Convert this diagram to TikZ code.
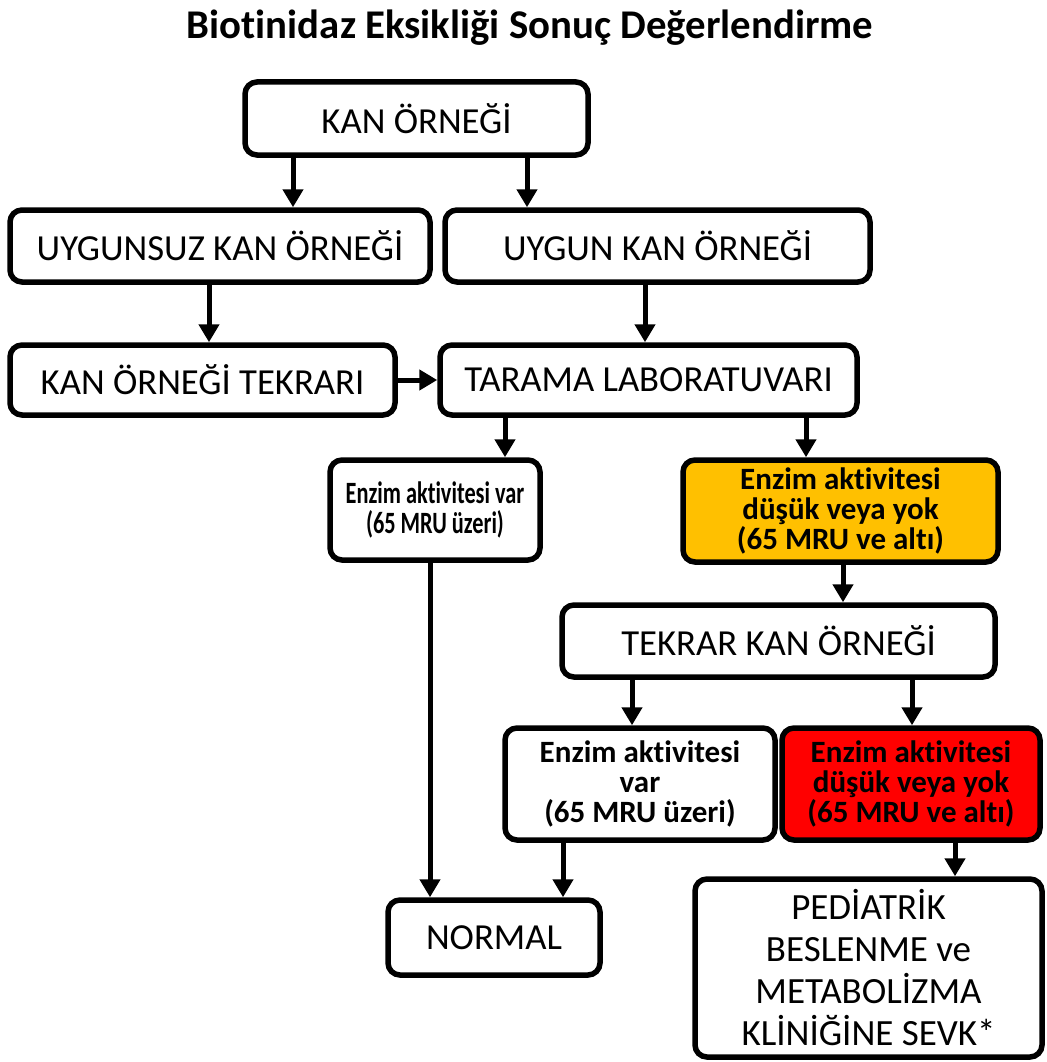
\documentclass[tikz,border=0pt]{standalone}
\usepackage{fontspec}
\defaultfontfeatures{Ligatures={NoCommon}}
\setmainfont{Carlito}
\newfontfamily\condfont[FakeStretch=0.72,Ligatures={NoCommon}]{Carlito}
\usetikzlibrary{arrows.meta}
\tikzset{
  box/.style={draw=black, line width=5.5pt, rounded corners=12pt, fill=white, align=center, inner sep=0pt,
    font=\fontsize{36.7}{40}\selectfont},
  ebox/.style={box, font=\bfseries\fontsize{31}{30}\selectfont},
  cbox/.style={box, font=\condfont\bfseries\fontsize{31}{30}\selectfont},
  pbox/.style={box, font=\fontsize{37}{42}\selectfont},
  arr/.style={line width=5pt, -{Triangle[length=18pt,width=20pt]}},
}
\definecolor{ylw}{HTML}{FFC000}
\definecolor{rd}{HTML}{FF0000}
\begin{document}
\begin{tikzpicture}[x=1pt,y=-1pt]
\useasboundingbox (0,0) rectangle (1046,1062);
\node (title) at (530,28) {\fontsize{40.8}{42}\selectfont\bfseries Biotinidaz Eksikliği Sonuç Değerlendirme};
\node[box, minimum width=343pt, minimum height=73pt] (kan) at (416.5,118.5) {KAN ÖRNEĞİ};
\node[box, minimum width=420pt, minimum height=72pt] (uyg0) at (220,246) {UYGUNSUZ KAN ÖRNEĞİ};
\node[box, minimum width=425pt, minimum height=72pt] (uyg) at (657.5,246) {UYGUN KAN ÖRNEĞİ};
\node[box, minimum width=385pt, minimum height=70pt] (tekrari) at (202.5,380) {KAN ÖRNEĞİ TEKRARI};
\node[box, minimum width=417pt, minimum height=70pt] (tarama) at (648.5,380) {TARAMA LABORATUVARI};
\node[cbox, minimum width=210pt, minimum height=100pt] (var1) at (435,510) {Enzim aktivitesi var\\(65 MRU üzeri)};
\node[ebox, fill=ylw, minimum width=315pt, minimum height=102pt] (yel) at (840.5,511) {Enzim aktivitesi\\düşük veya yok\\(65 MRU ve altı)};
\node[box, minimum width=433pt, minimum height=72pt] (tekkan) at (778.5,641) {TEKRAR KAN ÖRNEĞİ};
\node[ebox, minimum width=270pt, minimum height=112pt] (var2) at (640,784) {Enzim aktivitesi\\var\\(65 MRU üzeri)};
\node[ebox, fill=rd, minimum width=258pt, minimum height=112pt] (red) at (911,784) {Enzim aktivitesi\\düşük veya yok\\(65 MRU ve altı)};
\node[box, minimum width=212pt, minimum height=75pt] (normal) at (494,937.5) {NORMAL};
\node[pbox, minimum width=347pt, minimum height=178pt] (ped) at (868.5,968) {PEDİATRİK\\BESLENME ve\\METABOLİZMA\\KLİNİĞİNE SEVK*};
\coordinate (c1) at (293,0);
\coordinate (c2) at (527,0);
\coordinate (c3) at (209,0);
\coordinate (c4) at (645,0);
\coordinate (c5) at (505,0);
\coordinate (c6) at (806,0);
\coordinate (c7) at (843,0);
\coordinate (c8) at (632,0);
\coordinate (c9) at (912,0);
\coordinate (c10) at (430,0);
\coordinate (c11) at (563,0);
\coordinate (c12) at (955,0);
\draw[arr] (kan.south -| c1) -- (uyg0.north -| c1);
\draw[arr] (kan.south -| c2) -- (uyg.north -| c2);
\draw[arr] (uyg0.south -| c3) -- (tekrari.north -| c3);
\draw[arr] (uyg.south -| c4) -- (tarama.north -| c4);
\draw[arr] (tekrari.east) -- (tarama.west);
\draw[arr] (tarama.south -| c5) -- (var1.north -| c5);
\draw[arr] (tarama.south -| c6) -- (yel.north -| c6);
\draw[arr] (yel.south -| c7) -- (tekkan.north -| c7);
\draw[arr] (tekkan.south -| c8) -- (var2.north -| c8);
\draw[arr] (tekkan.south -| c9) -- (red.north -| c9);
\draw[arr] (var1.south -| c10) -- (normal.north -| c10);
\draw[arr] (var2.south -| c11) -- (normal.north -| c11);
\draw[arr] (red.south -| c12) -- (ped.north -| c12);
\end{tikzpicture}
\end{document}
